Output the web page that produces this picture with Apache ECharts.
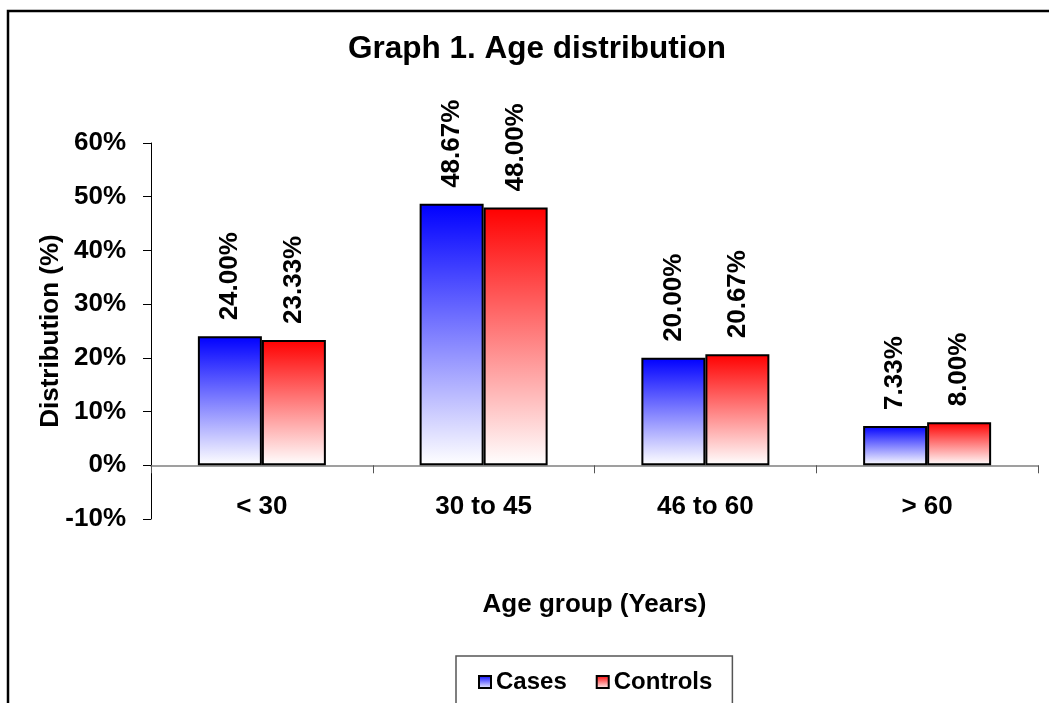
<!DOCTYPE html>
<html>
<head>
<meta charset="utf-8">
<script src="https://cdn.jsdelivr.net/npm/echarts@6/dist/echarts.min.js"></script>
<style>
html,body{margin:0;padding:0;background:#fff;}
#chart{width:1049px;height:703px;}
</style>
</head>
<body>
<div id="chart"></div>
<script>
const categories = ['< 30', '30 to 45', '46 to 60', '> 60'];
const cases = [24.00, 48.67, 20.00, 7.33];
const controls = [23.33, 48.00, 20.67, 8.00];
const yTicks = {min: -10, max: 60, interval: 10};

const FONT = '"Liberation Sans", Arial, sans-serif';

function grad(c) {
  return new echarts.graphic.LinearGradient(0, 0, 0, 1, [
    {offset: 0, color: c},
    {offset: 1, color: '#ffffff'}
  ]);
}

const labelOpt = {
  show: true,
  position: 'top',
  rotate: 90,
  align: 'left',
  verticalAlign: 'middle',
  distance: 16,
  color: '#000',
  fontFamily: FONT,
  fontWeight: 'bold',
  fontSize: 26,
  formatter: p => p.value.toFixed(2) + '%'
};

const chart = echarts.init(document.getElementById('chart'));
chart.setOption({
  animation: false,
  backgroundColor: '#fff',
  graphic: [{
    type: 'rect',
    z: -1,
    shape: {x: 8, y: 11, width: 1100, height: 800},
    style: {fill: 'none', stroke: '#000', lineWidth: 2.5}
  }],
  title: {
    text: 'Graph 1. Age distribution',
    left: 343,
    top: 28,
    padding: 5,
    textStyle: {fontFamily: FONT, fontWeight: 'bold', fontSize: 31.5, color: '#000'}
  },
  legend: {
    left: 456,
    top: 656,
    padding: [14, 20, 40, 22],
    borderColor: '#555',
    borderWidth: 1.5,
    itemWidth: 12,
    itemHeight: 12,
    itemGap: 29,
    icon: 'rect',
    itemStyle: {borderColor: '#000', borderWidth: 2},
    textStyle: {fontFamily: FONT, fontWeight: 'bold', fontSize: 24, color: '#000'},
    data: ['Cases', 'Controls']
  },
  grid: {left: 151, right: 11, top: 143, bottom: 184},
  xAxis: {
    type: 'category',
    data: categories,
    name: 'Age group (Years)',
    nameLocation: 'middle',
    nameGap: 73,
    nameMoveOverlap: false,
    nameTextStyle: {fontFamily: FONT, fontWeight: 'bold', fontSize: 26, color: '#000'},
    axisLine: {onZero: true, lineStyle: {color: '#808080', width: 1.5}},
    axisTick: {show: true, length: 8, lineStyle: {color: '#555', width: 1}},
    axisLabel: {margin: -25, fontFamily: FONT, fontWeight: 'bold', fontSize: 26, color: '#000'}
  },
  yAxis: {
    type: 'value',
    min: yTicks.min,
    max: yTicks.max,
    interval: yTicks.interval,
    name: 'Distribution (%)',
    nameLocation: 'middle',
    nameGap: 87,
    nameMoveOverlap: false,
    nameTextStyle: {fontFamily: FONT, fontWeight: 'bold', fontSize: 26, color: '#000'},
    axisLine: {show: true, lineStyle: {color: '#000', width: 1}},
    axisTick: {show: true, length: 8, lineStyle: {color: '#000', width: 1}},
    splitLine: {show: false},
    axisLabel: {margin: 25, fontFamily: FONT, fontWeight: 'bold', fontSize: 26, color: '#000', formatter: '{value}%'}
  },
  series: [
    {
      name: 'Cases',
      type: 'bar',
      data: cases,
      barWidth: 64,
      barGap: '0%',
      itemStyle: {color: grad('#0000ff'), borderColor: '#000', borderWidth: 2},
      label: labelOpt
    },
    {
      name: 'Controls',
      type: 'bar',
      data: controls,
      barWidth: 64,
      barGap: '0%',
      itemStyle: {color: grad('#ff0000'), borderColor: '#000', borderWidth: 2},
      label: labelOpt
    }
  ]
});
</script>
</body>
</html>
